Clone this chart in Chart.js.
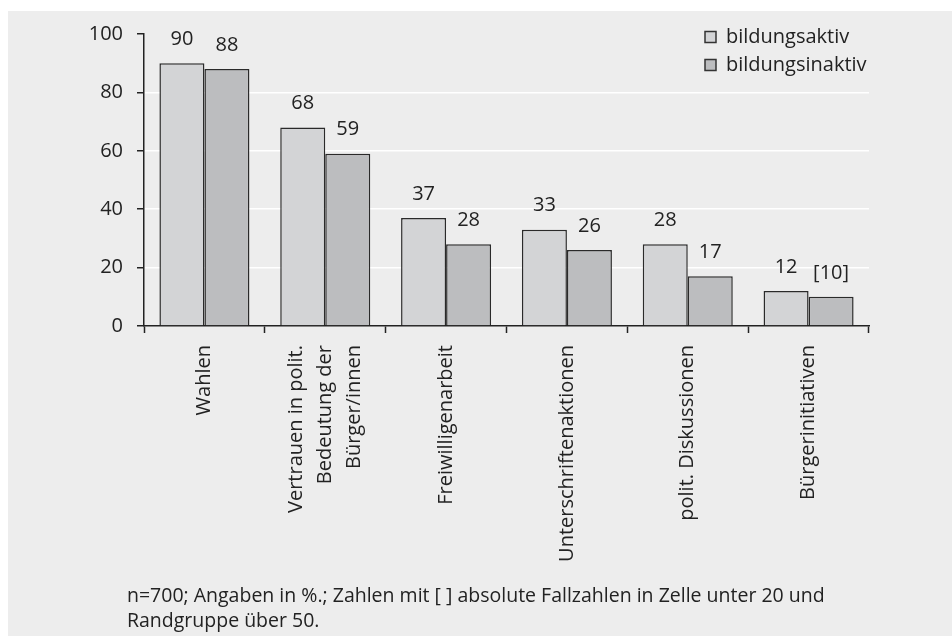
<!DOCTYPE html>
<html>
<head>
<meta charset="utf-8">
<script src="https://cdn.jsdelivr.net/npm/chart.js@4/dist/chart.umd.min.js"></script>
<style>
  html, body { margin: 0; padding: 0; background: #fff; }
  #wrap { position: relative; width: 952px; height: 636px; }
</style>
</head>
<body>
<div id="wrap"><canvas id="chart" width="952" height="636"></canvas></div>
<script>
const categories = [
    "Wahlen",
    ["Vertrauen in polit.", "Bedeutung der", "Bürger/innen"],
    "Freiwilligenarbeit",
    "Unterschriftenaktionen",
    "polit. Diskussionen",
    "Bürgerinitiativen"
];
const seriesNames = ["bildungsaktiv", "bildungsinaktiv"];
const aktiv = [90, 68, 37, 33, 28, 12];
const inaktiv = [88, 59, 28, 26, 17, 10];
const aktivLabels = ["90", "68", "37", "33", "28", "12"];
const inaktivLabels = ["88", "59", "28", "26", "17", "[10]"];
const yTicks = [0, 20, 40, 60, 80, 100];
const footnote = [
    "n=700; Angaben in %.; Zahlen mit [ ] absolute Fallzahlen in Zelle unter 20 und",
    "Randgruppe über 50."
];

const FONT = "'Open Sans', 'DejaVu Sans', sans-serif";
const colors = ["#d3d4d6", "#bcbdbf"];
const ink = "#222222";

// Hintergrund, Kategorien, Legende, Werte und Fußnote
const decor = {
    id: "decor",
    beforeDraw(chart) {
        const ctx = chart.ctx;
        ctx.save();
        ctx.fillStyle = "#ededed";
        ctx.fillRect(8, 11, chart.width - 8, chart.height - 11);
        ctx.restore();
    },
    afterDatasetsDraw(chart) {
        const ctx = chart.ctx;
        const labels = [aktivLabels, inaktivLabels];
        ctx.save();
        ctx.fillStyle = ink;
        ctx.font = "20px " + FONT;
        ctx.textAlign = "center";
        ctx.textBaseline = "middle";
        chart.data.datasets.forEach((ds, i) => {
            chart.getDatasetMeta(i).data.forEach((bar, j) => {
                ctx.fillText(labels[i][j], bar.x, bar.y - 24);
            });
        });

        // Kategorien (senkrecht, mehrzeilig zentriert)
        const xs = chart.scales.x;
        const top = xs.top + 19;
        categories.forEach((cat, i) => {
            const lines = Array.isArray(cat) ? cat : [cat];
            const cx = xs.getPixelForValue(i);
            lines.forEach((line, k) => {
                const lx = cx + (k - (lines.length - 1) / 2) * 29;
                ctx.save();
                ctx.translate(lx, top);
                ctx.rotate(-Math.PI / 2);
                ctx.textAlign = "right";
                ctx.textBaseline = "middle";
                ctx.fillText(line, 0, 0);
                ctx.restore();
            });
        });

        // Legende
        ctx.textAlign = "left";
        seriesNames.forEach((name, i) => {
            const cy = 37 + i * 28;
            ctx.fillStyle = colors[i];
            ctx.fillRect(705, cy - 5.5, 11, 11);
            ctx.strokeStyle = "#333";
            ctx.lineWidth = 1.5;
            ctx.strokeRect(705, cy - 5.5, 11, 11);
            ctx.fillStyle = ink;
            ctx.fillText(name, 726, cy);
        });

        // Fußnote
        ctx.font = "19.5px " + FONT;
        footnote.forEach((line, i) => {
            ctx.fillText(line, 127, 596 + i * 25);
        });
        ctx.restore();
    }
};

new Chart(document.getElementById("chart"), {
    type: "bar",
    data: {
        labels: categories,
        datasets: [
            {
                label: seriesNames[0],
                data: aktiv,
                backgroundColor: colors[0],
                borderColor: "#2a2a2a",
                borderWidth: 1.5
            },
            {
                label: seriesNames[1],
                data: inaktiv,
                backgroundColor: colors[1],
                borderColor: "#2a2a2a",
                borderWidth: 1.5
            }
        ]
    },
    options: {
        responsive: false,
        animation: false,
        categoryPercentage: 0.745,
        barPercentage: 1,
        layout: { padding: { top: 34, right: 83, left: 0, bottom: 0 } },
        plugins: {
            legend: { display: false },
            tooltip: { enabled: false }
        },
        scales: {
            x: {
                afterFit(scale) { scale.height = 310; },
                grid: {
                    offset: true,
                    drawOnChartArea: false,
                    tickLength: 7,
                    tickColor: ink,
                    tickWidth: 1.5
                },
                border: { display: true, color: ink, width: 1.5 },
                ticks: { display: false, autoSkip: false }
            },
            y: {
                min: 0,
                max: 100,
                afterFit(scale) { scale.width = 144; },
                afterBuildTicks(scale) {
                    scale.ticks = yTicks.map(v => ({ value: v }));
                },
                grid: {
                    color: ctx => (ctx.tick && ctx.tick.value > 0 && ctx.tick.value < 100) ? "#ffffff" : "rgba(0,0,0,0)",
                    lineWidth: 1.5,
                    tickLength: 7,
                    tickColor: ink,
                    tickWidth: 1.5
                },
                border: { display: true, color: ink, width: 1.5 },
                ticks: {
                    padding: 14,
                    color: ink,
                    font: { family: FONT, size: 20 }
                }
            }
        }
    },
    plugins: [decor]
});
</script>
</body>
</html>
